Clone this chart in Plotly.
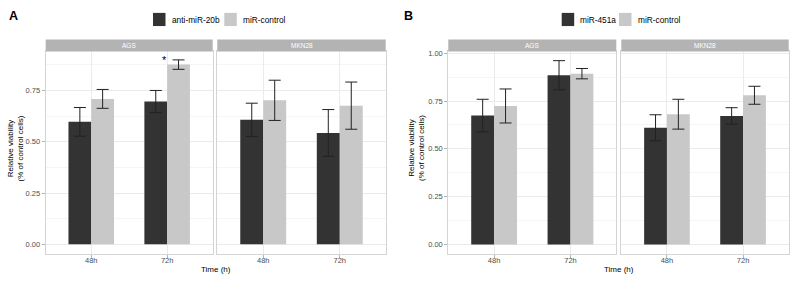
import plotly.graph_objects as go

W, H = 796, 282

times = ["48h", "72h"]
cells = ["AGS", "MKN28"]

# Panel A
A_treat_name = "anti-miR-20b"
A_treat = {"AGS": [0.597, 0.696], "MKN28": [0.607, 0.543]}
A_treat_err = {"AGS": [0.070, 0.054], "MKN28": [0.081, 0.114]}
A_ctrl = {"AGS": [0.709, 0.876], "MKN28": [0.702, 0.676]}
A_ctrl_err = {"AGS": [0.046, 0.023], "MKN28": [0.098, 0.115]}

# Panel B
B_treat_name = "miR-451a"
B_treat = {"AGS": [0.674, 0.885], "MKN28": [0.610, 0.672]}
B_treat_err = {"AGS": [0.085, 0.076], "MKN28": [0.068, 0.043]}
B_ctrl = {"AGS": [0.724, 0.893], "MKN28": [0.681, 0.780]}
B_ctrl_err = {"AGS": [0.089, 0.027], "MKN28": [0.078, 0.047]}
ctrl_name = "miR-control"

A_yticks = [0, 0.25, 0.5, 0.75]
B_yticks = [0, 0.25, 0.5, 0.75, 1.0]

DARK = "#333333"
LIGHT = "#c8c8c8"
STRIP = "#b3b3b3"
FONT = "Liberation Sans"

def px_x(p):
    return p / W

def px_y(p):
    return 1 - p / H

# panel pixel extents
panels = [
    ("x", "y", 45.7, 212.7),
    ("x2", "y2", 217.3, 385.7),
    ("x3", "y3", 448.3, 616.3),
    ("x4", "y4", 621.3, 788.7),
]
plot_top, plot_bot = 49.0, 253.3
strip_top = 37.0

fig = go.Figure()

datasets = [
    (A_treat, A_treat_err, A_ctrl, A_ctrl_err, ["x", "x2"], ["y", "y2"]),
    (B_treat, B_treat_err, B_ctrl, B_ctrl_err, ["x3", "x4"], ["y3", "y4"]),
]

for tr, tre, ct, cte, xs, ys in datasets:
    for cell, xa, ya in zip(cells, xs, ys):
        fig.add_trace(go.Bar(
            x=times, y=tr[cell], xaxis=xa, yaxis=ya, width=0.3, offset=-0.3,
            marker=dict(color=DARK, line=dict(width=0)), showlegend=False,
            error_y=dict(type="data", array=tre[cell], color="#222222", thickness=1, width=6),
        ))
        fig.add_trace(go.Bar(
            x=times, y=ct[cell], xaxis=xa, yaxis=ya, width=0.3, offset=0,
            marker=dict(color=LIGHT, line=dict(width=0)), showlegend=False,
            error_y=dict(type="data", array=cte[cell], color="#222222", thickness=1, width=6),
        ))

axis_common = dict(showline=True, mirror=True, linecolor="#d4d4d4", linewidth=1,
                   showgrid=True, gridcolor="#ebebeb", gridwidth=1, zeroline=False)
tickfont = dict(family=FONT, size=7.5, color="#4d4d4d")

layout = dict(
    width=W, height=H, margin=dict(l=0, r=0, t=0, b=0),
    paper_bgcolor="white", plot_bgcolor="white",
    barmode="overlay", showlegend=False,
    font=dict(family=FONT, color="#000000"),
)

ydom = [px_y(plot_bot), px_y(plot_top)]
for i, (xn, yn, x0, x1) in enumerate(panels):
    idx = "" if i == 0 else str(i + 1)
    is_left = i in (0, 2)
    is_A = i < 2
    rng = [-0.045, 0.94] if is_A else [-0.048, 1.009]
    ticks = A_yticks if is_A else B_yticks
    layout["xaxis" + idx] = dict(
        domain=[px_x(x0), px_x(x1)], anchor=yn, type="category",
        range=[-0.6, 1.6], ticks="outside", ticklen=3, tickcolor="#b3b3b3",
        tickfont=tickfont, ticklabelstandoff=-4, **axis_common,
    )
    ydict = dict(
        domain=ydom, anchor=xn, range=rng, tickvals=ticks,
        ticktext=[f"{t:.2f}" for t in ticks],
        showticklabels=is_left, ticks="outside" if is_left else "",
        ticklen=3, tickcolor="#b3b3b3", tickfont=tickfont,
        minor=dict(tick0=0.125, dtick=0.25, showgrid=True, gridcolor="#f5f5f5", ticks=""),
        **axis_common,
    )
    if not is_left:
        ydict["matches"] = "y" if is_A else "y3"
    layout["yaxis" + idx] = ydict

fig.update_layout(**layout)

shapes = []
annots = []
# strips
for i, (xn, yn, x0, x1) in enumerate(panels):
    shapes.append(dict(type="rect", xref="paper", yref="paper",
                       x0=px_x(x0), x1=px_x(x1), y0=px_y(plot_top), y1=px_y(strip_top),
                       fillcolor=STRIP, line=dict(width=0), layer="above"))
    annots.append(dict(text=cells[i % 2], xref="paper", yref="paper",
                       x=px_x((x0 + x1) / 2), y=px_y((plot_top + strip_top) / 2),
                       showarrow=False, font=dict(family=FONT, size=6.5, color="white"),
                       xanchor="center", yanchor="middle"))

# legends (manual keys)
legend_specs = [
    (153, A_treat_name, 224.3, ctrl_name),
    (561.7, B_treat_name, 619.0, ctrl_name),
]
for xd, tname, xl, cname in legend_specs:
    for xk, col, name in ((xd, DARK, tname), (xl, LIGHT, cname)):
        shapes.append(dict(type="rect", xref="paper", yref="paper",
                           x0=px_x(xk), x1=px_x(xk + 12.5), y0=px_y(23.3), y1=px_y(10),
                           fillcolor=col, line=dict(width=0)))
        annots.append(dict(text=name, xref="paper", yref="paper",
                           x=px_x(xk + 16.5), y=px_y(16.8), showarrow=False,
                           xanchor="left", yanchor="middle",
                           font=dict(family=FONT, size=8.3, color="#000000")))

# panel letters
for lx, letter in ((6.5, "A"), (401.5, "B")):
    annots.append(dict(text=f"<b>{letter}</b>", xref="paper", yref="paper",
                       x=px_x(lx), y=px_y(13.5), showarrow=False,
                       xanchor="left", yanchor="middle",
                       font=dict(family=FONT, size=12.5, color="#000000")))

# axis titles
for cx in (215.5, 618.8):
    annots.append(dict(text="Time (h)", xref="paper", yref="paper",
                       x=px_x(cx), y=px_y(269.5), showarrow=False,
                       xanchor="center", yanchor="middle",
                       font=dict(family=FONT, size=8, color="#000000")))
for cx in (15.0, 416.5):
    annots.append(dict(text="Relative viability<br>(% of control cells)", xref="paper", yref="paper",
                       x=px_x(cx), y=px_y(147), showarrow=False, textangle=-90,
                       xanchor="center", yanchor="middle",
                       font=dict(family=FONT, size=8, color="#000000")))

# significance asterisk
annots.append(dict(text="*", xref="x", yref="y", x="72h", y=0.89, xshift=-3, yshift=2,
                   showarrow=False, xanchor="center", yanchor="middle",
                   font=dict(family=FONT, size=11, color="#000000")))

fig.update_layout(shapes=shapes, annotations=annots)
fig.write_html("out.html", config={"displayModeBar": False},
               post_script="document.body.style.margin='0';document.body.style.overflow='hidden';")
